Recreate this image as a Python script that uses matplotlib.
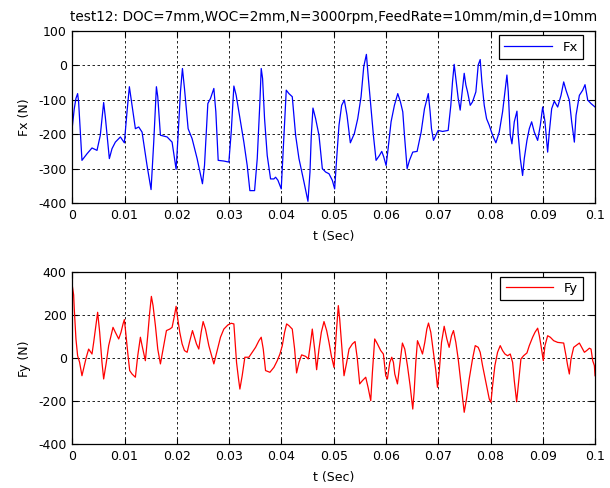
import numpy as np
import matplotlib.pyplot as plt

plt.rcParams['font.family'] = ['DejaVu Sans']
plt.rcParams['font.size'] = 9

title = "test12: DOC=7mm,WOC=2mm,N=3000rpm,FeedRate=10mm/min,d=10mm"

# Fx (N) vs t, t in ms
tx_ms = [0, 0.38, 0.70, 1.02, 1.21, 1.85, 2.81, 3.77, 4.73, 5.36,
         6.00, 6.32, 7.09, 7.60, 8.24, 9.20, 9.96, 10.47, 10.92, 11.43,
         12.07, 12.71, 13.35, 14.30, 15.07, 15.58, 16.09, 16.35, 16.86, 18.14,
         19.09, 19.86, 20.24, 20.69, 21.07, 21.46, 22.16, 22.92, 23.88, 24.90,
         25.29, 25.93, 26.44, 27.08, 27.46, 27.91, 28.99, 29.95, 30.40, 30.91,
         31.35, 32.18, 32.82, 33.46, 33.97, 34.87, 35.38, 35.89, 36.14, 36.40,
         36.78, 37.29, 37.93, 38.57, 38.89, 39.34, 39.97, 40.49, 40.93, 41.44,
         42.08, 42.72, 43.36, 44.32, 45.08, 45.47, 45.72, 46.04, 46.55, 47.19,
         47.83, 48.47, 49.11, 49.74, 50.19, 50.57, 51.02, 51.53, 52.04, 52.55,
         53.19, 53.96, 54.60, 55.24, 55.75, 56.26, 56.64, 57.15, 57.60, 58.11,
         58.75, 59.20, 59.58, 60.03, 60.34, 60.98, 61.62, 62.26, 62.77, 63.22,
         63.54, 64.05, 64.50, 65.13, 65.96, 66.73, 67.37, 68.10, 68.45, 68.71,
         69.09, 69.54, 69.99, 70.82, 71.90, 72.41, 72.73, 73.05, 73.37, 73.82,
         74.20, 74.65, 74.97, 75.29, 75.61, 76.12, 76.56, 77.20, 77.65, 78.03,
         78.35, 78.80, 79.25, 79.76, 80.40, 81.03, 81.67, 82.31, 82.76, 83.14,
         83.40, 83.78, 84.10, 84.55, 85.06, 85.31, 85.70, 86.14, 86.46, 86.97,
         87.42, 87.87, 88.38, 89.02, 89.53, 89.98, 90.42, 90.93, 91.25, 91.70,
         92.21, 92.85, 93.49, 94.00, 94.44, 95.08, 95.53, 96.04, 96.36, 97.00,
         97.64, 98.08, 98.60, 99.23, 100.0]
fx = [-179, -126, -96, -82, -106, -276, -257, -240, -247, -203,
      -108, -150, -271, -242, -223, -208, -225, -135, -62, -116,
      -184, -179, -194, -291, -361, -223, -62, -91, -203, -208,
      -223, -302, -203, -77, -9, -67, -184, -213, -271, -344,
      -291, -111, -96, -67, -135, -276, -278, -281, -194, -60,
      -87, -164, -223, -291, -364, -364, -271, -106, -9, -38,
      -155, -262, -330, -330, -325, -334, -359, -203, -72, -82,
      -91, -203, -271, -339, -395, -310, -203, -124, -155, -203,
      -300, -310, -315, -334, -359, -271, -174, -116, -101, -145,
      -225, -198, -155, -91, -4, 32, -38, -126, -203, -276,
      -262, -250, -266, -291, -252, -164, -116, -82, -106, -135,
      -203, -300, -276, -252, -250, -194, -126, -82, -135, -184,
      -218, -203, -189, -192, -189, -116, -48, 3, -38, -96,
      -130, -67, -23, -57, -77, -116, -106, -77, 1, 17,
      -48, -116, -155, -174, -203, -225, -194, -135, -77, -28,
      -77, -203, -228, -164, -133, -203, -271, -320, -271, -218,
      -184, -164, -194, -218, -174, -121, -164, -252, -194, -126,
      -104, -121, -87, -48, -72, -101, -164, -223, -145, -87,
      -72, -56, -101, -111, -121]

# Fy (N) vs t
ty_ms = [0, 0.26, 0.38, 0.70, 1.02, 1.40, 1.85, 2.30, 2.68, 3.13,
         3.77, 4.09, 4.60, 4.85, 5.24, 5.68, 6.00, 6.51, 6.96, 7.41,
         7.79, 8.24, 8.88, 9.32, 9.71, 9.96, 10.22, 10.60, 10.98, 11.43,
         12.07, 12.52, 13.03, 13.35, 13.98, 14.43, 14.81, 15.13, 15.45, 15.90,
         16.35, 16.86, 17.37, 18.01, 18.65, 19.09, 19.54, 19.86, 20.18, 20.56,
         21.01, 21.46, 21.97, 22.41, 22.99, 23.37, 23.75, 24.20, 24.65, 25.03,
         25.48, 26.12, 26.56, 27.08, 27.71, 28.35, 28.99, 29.76, 30.40, 30.91,
         31.42, 31.80, 32.06, 32.50, 33.01, 33.78, 34.42, 35.06, 35.70, 36.14,
         36.53, 36.97, 37.80, 38.57, 39.21, 39.72, 40.17, 40.61, 41.00, 41.44,
         42.08, 42.53, 42.91, 43.36, 43.87, 44.64, 45.15, 45.59, 45.91, 46.36,
         46.74, 47.19, 47.64, 48.15, 48.66, 49.11, 49.55, 50.06, 50.51, 50.89,
         51.15, 51.53, 51.98, 52.49, 52.94, 53.58, 54.09, 54.53, 54.98, 55.49,
         56.13, 56.58, 57.09, 57.41, 57.85, 58.37, 59.00, 59.51, 59.96, 60.28,
         60.73, 61.11, 61.43, 61.69, 62.20, 62.71, 63.15, 63.60, 64.11, 64.62,
         65.13, 65.39, 65.71, 66.03, 66.54, 66.99, 67.43, 67.82, 68.14, 68.58,
         69.09, 69.54, 69.86, 70.18, 70.63, 71.14, 71.65, 72.09, 72.54, 72.92,
         73.37, 73.82, 74.33, 74.97, 75.41, 75.93, 76.56, 77.08, 77.65, 78.03,
         78.48, 79.12, 79.76, 80.08, 80.40, 80.84, 81.35, 81.86, 82.31, 82.76,
         83.27, 83.78, 84.23, 84.55, 85.00, 85.38, 85.82, 86.33, 86.97, 87.42,
         88.06, 88.51, 89.02, 89.34, 89.66, 90.10, 90.42, 90.93, 91.44, 92.08,
         92.85, 94.00, 94.44, 94.76, 95.08, 95.40, 95.91, 96.36, 97.00, 97.45,
         97.96, 98.40, 98.91, 99.23, 99.55, 99.87, 100.0]
fy = [338, 295, 229, 90, 12, -19, -81, -34, 5, 43,
      20, 74, 167, 214, 121, -19, -96, -19, 59, 105,
      144, 121, 90, 121, 160, 180, 121, 28, -57, -73,
      -88, 12, 98, 59, -11, 105, 214, 288, 245, 152,
      43, -26, 43, 129, 136, 144, 198, 242, 183, 121,
      67, 36, 28, 74, 129, 98, 67, 43, 121, 171,
      136, 59, 20, -26, 36, 98, 136, 155, 163, 160,
      -19, -96, -143, -81, 5, 5, 28, 51, 82, 98,
      43, -57, -65, -42, -11, 20, 59, 121, 160, 152,
      136, 43, -68, -19, 16, 9, -3, 74, 136, 43,
      -53, 43, 121, 171, 129, 74, 12, -42, 121, 245,
      183, 59, -81, -19, 43, 67, 78, -3, -119, -104,
      -88, -135, -197, -65, 90, 67, 36, 20, -81, -96,
      -19, 5, -19, -73, -119, -19, 71, 43, -34, -127,
      -236, -158, -19, 82, 51, 20, 74, 136, 164, 121,
      28, -57, -135, -65, 74, 149, 90, 51, 105, 129,
      74, -3, -112, -251, -189, -96, -3, 59, 51, 28,
      -34, -112, -189, -205, -127, -34, 28, 59, 36, 20,
      12, 20, -19, -104, -202, -112, -3, 12, 25, 59,
      98, 121, 140, 105, 59, -11, 59, 105, 98, 82,
      74, 71, 12, -34, -73, -3, 51, 59, 71, 51,
      28, 36, 47, 43, -11, -34, -81]

xticks = [0, 0.01, 0.02, 0.03, 0.04, 0.05, 0.06, 0.07, 0.08, 0.09, 0.1]
xticklabels = ["0", "0.01", "0.02", "0.03", "0.04", "0.05", "0.06", "0.07", "0.08", "0.09", "0.1"]
fx_ticks = [-400, -300, -200, -100, 0, 100]
fy_ticks = [-400, -200, 0, 200, 400]

fig = plt.figure(figsize=(6.1, 4.88), dpi=100)
ax1 = fig.add_axes([0.1185, 0.584, 0.857, 0.3525])
ax2 = fig.add_axes([0.1185, 0.0895, 0.857, 0.3525])


def style(ax, yticks, ylim, ylabel):
    ax.set_xlim(0, 0.1)
    ax.set_ylim(*ylim)
    ax.set_xticks(xticks)
    ax.set_xticklabels(xticklabels)
    ax.set_yticks(yticks)
    ax.set_yticklabels([str(v) for v in yticks])
    ax.tick_params(direction='in', length=4, width=0.8, top=True, right=True,
                   labelsize=9, pad=4)
    ax.grid(True, color='black', linestyle=(0, (3, 3)), linewidth=0.6)
    for s in ax.spines.values():
        s.set_linewidth(0.9)
    ax.set_xlabel("t (Sec)", fontsize=9, labelpad=6)
    ax.set_ylabel(ylabel, fontsize=9, labelpad=5)
    leg = ax.legend(loc='upper right', bbox_to_anchor=(0.977, 0.975),
                    fancybox=False, edgecolor='black', handlelength=3.6,
                    fontsize=9.5, borderaxespad=0, framealpha=1)
    leg.get_frame().set_linewidth(0.9)


ax1.plot(np.array(tx_ms) / 1000, fx, color='blue', linewidth=0.9, label='Fx')
style(ax1, fx_ticks, (-400, 100), "Fx (N)")
ax1.set_title(title, fontsize=9.8, pad=7)

ax2.plot(np.array(ty_ms) / 1000, fy, color='red', linewidth=0.9, label='Fy')
style(ax2, fy_ticks, (-400, 400), "Fy (N)")

fig.savefig("out.png", dpi=100)
